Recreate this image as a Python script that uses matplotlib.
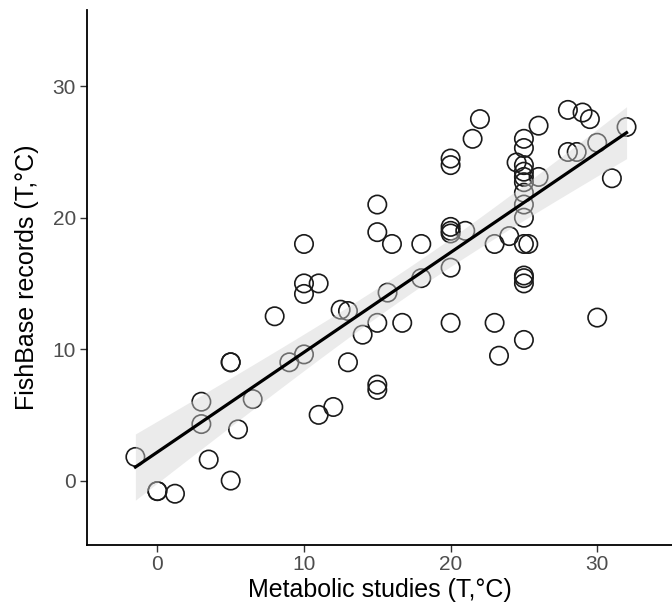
import numpy as np
import matplotlib
matplotlib.use("Agg")
import matplotlib.pyplot as plt

plt.rcParams['font.family'] = ['Liberation Sans', 'DejaVu Sans']

metabolic = [-1.5, 0, 0, 1.2, 3, 3, 3.5, 5, 5, 5, 5.5, 6.5, 8, 9,
             10, 10, 10, 10, 11, 11, 12, 12.5, 13, 13, 14,
             15, 15, 15, 15, 15, 15.7, 16, 16.7, 18, 18,
             20, 20, 20, 20, 20, 20, 20, 21, 21.5, 22, 23, 23, 23.3, 24, 24.5,
             25, 25, 25, 25, 25, 25, 25, 25, 25, 25, 25.3, 25, 25, 25, 25,
             26, 26, 28, 28, 28.6, 29, 29.5, 30, 30, 31, 32]
fishbase = [1.8, -0.8, -0.8, -1.0, 6.0, 4.3, 1.6, 9.0, 9.0, 0.0, 3.9, 6.2, 12.5, 9.0,
            18.0, 15.0, 14.2, 9.6, 15.0, 5.0, 5.6, 13.0, 12.9, 9.0, 11.1,
            21.0, 18.9, 12.0, 7.3, 6.9, 14.3, 18.0, 12.0, 18.0, 15.4,
            24.5, 24.0, 19.3, 19.0, 18.8, 16.2, 12.0, 19.0, 26.0, 27.5, 18.0, 12.0, 9.5, 18.6, 24.2,
            26.0, 25.3, 24.0, 23.5, 23.1, 22.7, 21.9, 21.0, 20.0, 18.0, 18.0, 15.6, 15.4, 15.0, 10.7,
            23.1, 27.0, 28.2, 25.0, 25.0, 28.0, 27.5, 25.7, 12.4, 23.0, 26.9]
x_ticks = [0, 10, 20, 30]
y_ticks = [0, 10, 20, 30]

x = np.array(metabolic, float)
y = np.array(fishbase, float)

# linear fit with 95% CI
n = len(x)
slope, intercept = np.polyfit(x, y, 1)
xs = np.linspace(x.min(), x.max(), 200)
yhat = intercept + slope * xs
resid = y - (intercept + slope * x)
s = np.sqrt(np.sum(resid ** 2) / (n - 2))
sxx = np.sum((x - x.mean()) ** 2)
se = s * np.sqrt(1.0 / n + (xs - x.mean()) ** 2 / sxx)
tval = 1.993
lo, hi = yhat - tval * se, yhat + tval * se

fig = plt.figure(figsize=(6.72, 6.12), dpi=100)
ax = fig.add_axes([87/672, (612-545)/612, 1-87/672, (545-10)/612])

ax.scatter(x, y, s=175, facecolors='none', edgecolors='#1a1a1a', linewidths=1.2, zorder=2)
ax.fill_between(xs, lo, hi, color='#D3D3D3', alpha=0.45, linewidth=0, zorder=3)
ax.plot(xs, yhat, color='black', linewidth=2.3, zorder=4)

ax.set_xlim(-4.8, 35.1)
ax.set_ylim(-4.9, 35.8)
ax.set_xticks(x_ticks)
ax.set_yticks(y_ticks)
for sp in ['top', 'right']:
    ax.spines[sp].set_visible(False)
for sp in ['left', 'bottom']:
    ax.spines[sp].set_linewidth(1.3)
    ax.spines[sp].set_color('black')
ax.tick_params(axis='both', colors='#333333', labelcolor='#4D4D4D', labelsize=15,
               length=5, width=1.0)
ax.tick_params(axis='x', pad=2)
ax.tick_params(axis='y', pad=3)
ax.set_xlabel('Metabolic studies (T,°C)', fontsize=18, color='black', labelpad=3)
ax.set_ylabel('FishBase records (T,°C)', fontsize=18, color='black', labelpad=10)

fig.savefig('out.png', dpi=100, facecolor='white')
